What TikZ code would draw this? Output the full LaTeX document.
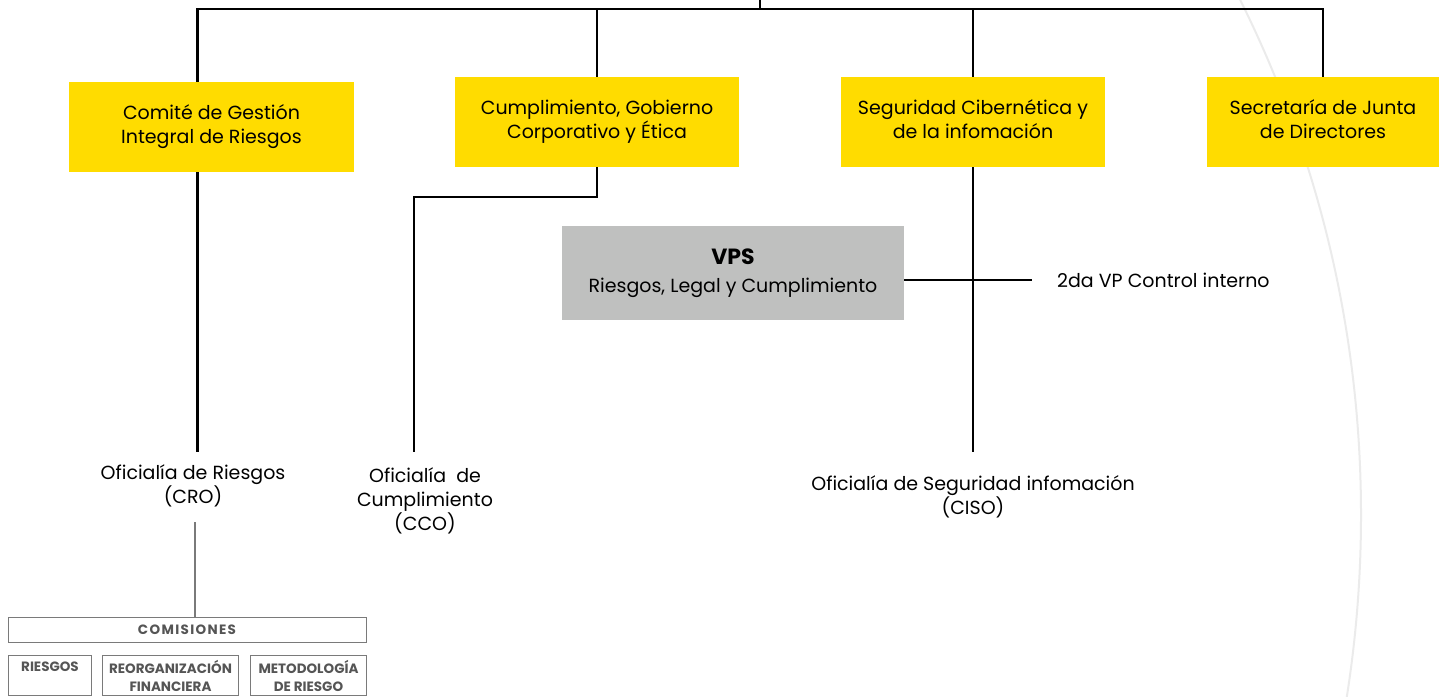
\documentclass[tikz,border=0pt]{standalone}
\usepackage{fontspec}
\setmainfont{Poppins}
\usepackage{tikz}
\usetikzlibrary{positioning}
\definecolor{amarillo}{HTML}{FFDC00}
\definecolor{gris}{HTML}{BFC0BF}
\definecolor{arco}{HTML}{EBEBEB}
\definecolor{marco}{HTML}{7A7A7A}
\definecolor{letra}{HTML}{555555}

\begin{document}
\begin{tikzpicture}[x=1pt,y=-1pt,
    linea/.style={line width=2.6pt},
    caja/.style={fill=amarillo,minimum height=90pt,align=center,inner sep=0pt,font=\fontsize{19}{24}\selectfont,execute at end node=\vphantom{g}},
    texto/.style={align=center,inner xsep=0pt,inner ysep=8pt,font=\fontsize{19}{24}\selectfont},
    comi/.style={draw=marco,line width=1pt,align=center,inner sep=2pt,text=letra,font=\fontsize{13.5}{18}\selectfont\bfseries}]
    \useasboundingbox (0,0) rectangle (1442,696);
    \begin{scope}
      \clip (0,0) rectangle (1442,696);
      \draw[arco,line width=2pt] (205,515) circle [radius=1156];
    \end{scope}
    \node[caja,minimum width=285pt] (cgir) at (211.5,127) {Comité de Gestión\\Integral de Riesgos};
    \node[caja,minimum width=284pt] (ccge) at (597,122) {Cumplimiento, Gobierno\\Corporativo y Ética};
    \node[caja,minimum width=264pt] (sci) at (973,122) {Seguridad Cibernética y\\de la infomación};
    \node[caja,minimum width=232pt] (sjd) at (1323,122) {Secretaría de Junta\\de Directores};
    \node[fill=gris,minimum width=342pt,minimum height=94pt,align=center,inner sep=0pt,font=\fontsize{19}{24}\selectfont] (vps) at (733,273) {{\fontsize{22}{24}\selectfont\bfseries VPS}\\[4pt]Riesgos, Legal y Cumplimiento};
    \node[anchor=west,inner sep=0pt,font=\fontsize{19}{24}\selectfont] (ctrl) at (1057,280) {2da VP Control interno};
    \node[texto] (cro) at (193,486) {Oficialía de Riesgos\\(CRO)};
    \node[texto] (cco) at (425,501) {Oficialía\ \ de\\Cumplimiento\\(CCO)};
    \node[texto] (ciso) at (973,497) {Oficialía de Seguridad infomación\\(CISO)};
    \node[comi,minimum width=358pt,minimum height=25pt] (com) at (187,629.5) {\addfontfeature{LetterSpace=10}COMISIONES};
    \node[comi,anchor=north west,minimum width=83pt,minimum height=40pt] (riesgos) at (8,655) {RIESGOS\\~};
    \node[comi,anchor=north west,minimum width=136pt,minimum height=40pt] (reorg) at (102,655) {REORGANIZACIÓN\\FINANCIERA};
    \node[comi,anchor=north west,minimum width=116pt,minimum height=40pt] (metod) at (250,655) {METODOLOGÍA\\DE RIESGO};
    \coordinate (raiz) at (760,0);
    \coordinate (bus) at (760,9);
    \coordinate (codo) at (414,197);
    \coordinate (fin) at (0,452);
    \draw[linea] (raiz) -- (bus);
    \draw[linea] ([xshift=-14pt]cgir.north) |- (bus) -| (sjd.north);
    \draw[linea] (ccge.north) -- (ccge.north |- bus);
    \draw[linea] (sci.north) -- (sci.north |- bus);
    \draw[linea] ([xshift=-14pt]cgir.south) -- ([xshift=-14pt]cgir.south |- fin);
    \draw[linea] (ccge.south) |- (codo) -- (codo |- fin);
    \draw[linea] (sci.south) -- (sci.south |- fin);
    \draw[linea] (vps.east |- ctrl.west) -- ([xshift=-25pt]ctrl.west);
    \draw[marco,line width=2pt] ([xshift=8pt]com.north |- 0,522) -- ([xshift=8pt]com.north);
\end{tikzpicture}
\end{document}
